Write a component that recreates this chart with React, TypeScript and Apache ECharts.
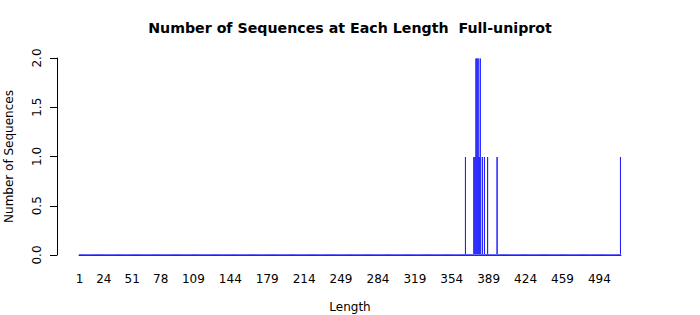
import React, { useEffect, useRef } from "react";
import * as echarts from "echarts";

const maxLength = 514;
const seqLengths = [367, 375, 376, 377, 378, 379, 380, 381, 383, 385, 388, 397, 514];
const seqCounts = [1, 1, 1, 2, 2, 2, 1, 2, 1, 1, 1, 1, 1];
const labeledLengths = [1, 24, 51, 78, 109, 144, 179, 214, 249, 284, 319, 354, 389, 424, 459, 494];
const yTicks = [0, 0.5, 1, 1.5, 2];

export default function App() {
  const ref = useRef<HTMLDivElement>(null);
  useEffect(() => {
    if (!ref.current) return;
    const chart = echarts.init(ref.current, undefined, { renderer: "svg" });
    const categories: string[] = [];
    const values: number[] = [];
    for (let i = 1; i <= maxLength; i++) {
      categories.push(String(i));
      const k = seqLengths.indexOf(i);
      values.push(k >= 0 ? seqCounts[k] : 0);
    }
    const labelSet = new Set(labeledLengths.map(String));
    const font = "DejaVu Sans";
    chart.setOption({
      animation: false,
      title: {
        text: "Number of Sequences at Each Length  Full-uniprot",
        left: "center",
        top: 21,
        padding: 0,
        textStyle: { fontFamily: font, fontSize: 14.2, fontWeight: "bold", color: "#000" },
      },
      grid: {
        left: 79,
        right: 79,
        top: 58,
        bottom: 60,
        containLabel: false,
        outerBoundsMode: "none",
      },
      xAxis: {
        type: "category",
        data: categories,
        name: "Length",
        nameLocation: "middle",
        nameGap: 46,
        nameTextStyle: { fontFamily: font, fontSize: 12, color: "#000" },
        axisLine: { show: true, lineStyle: { color: "#2222ff", width: 1 } },
        axisTick: { show: false },
        axisLabel: {
          interval: (_i: number, v: string) => labelSet.has(v),
          margin: 18,
          fontFamily: font,
          fontSize: 12,
          color: "#000",
          hideOverlap: false,
        },
      },
      yAxis: {
        type: "value",
        min: 0,
        max: 2,
        interval: 0.5,
        offset: 22,
        name: "Number of Sequences",
        nameLocation: "middle",
        nameGap: 42,
        nameTextStyle: { fontFamily: font, fontSize: 12, color: "#000" },
        splitLine: { show: false },
        axisLine: { show: true, lineStyle: { color: "#000", width: 1 } },
        axisTick: { show: true, length: 7, lineStyle: { color: "#000" } },
        axisLabel: {
          rotate: 90,
          margin: 14,
          fontFamily: font,
          fontSize: 12,
          color: "#000",
          formatter: (v: number) => (yTicks.includes(v) ? v.toFixed(1) : ""),
        },
      },
      series: [
        {
          type: "bar",
          data: values,
          barCategoryGap: "15%",
          itemStyle: { color: "#1414f0", borderColor: "#2020ff", borderWidth: 1 },
        },
      ],
    });
    return () => chart.dispose();
  }, []);
  return (
    <div
      ref={ref}
      style={{ position: "absolute", left: 0, top: 0, width: 700, height: 315 }}
    />
  );
}
